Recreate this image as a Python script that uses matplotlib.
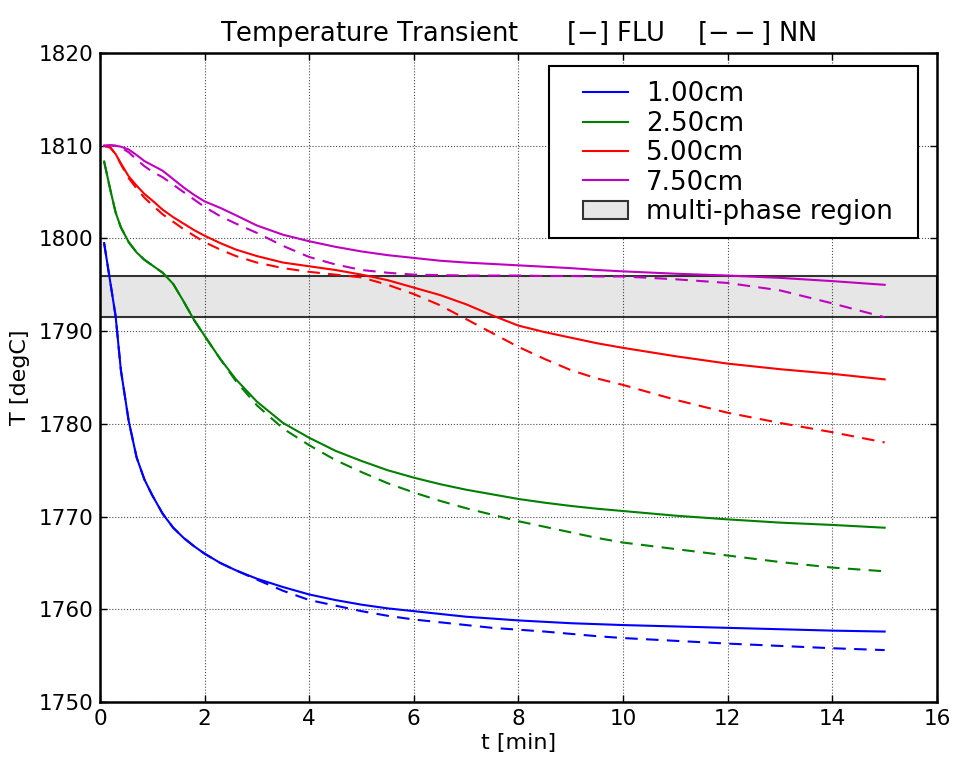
import matplotlib
matplotlib.use("Agg")
import matplotlib.pyplot as plt
from matplotlib.patches import Rectangle

# ---------------- data ----------------
t = [0.08, 0.2, 0.3, 0.4, 0.55, 0.7, 0.85, 1.0, 1.2, 1.4, 1.6, 1.8, 2.0, 2.3, 2.6,
     3.0, 3.5, 4.0, 4.5, 5.0, 5.5, 6.0, 6.5, 7.0, 7.5, 8.0, 8.5, 9.0, 9.5, 10.0,
     11.0, 12.0, 13.0, 14.0, 15.0]

blue_flu = [1799.5, 1795.2, 1791.6, 1785.8, 1780.3, 1776.4, 1774.0, 1772.3, 1770.3, 1768.8,
            1767.7, 1766.8, 1766.0, 1765.0, 1764.2, 1763.3, 1762.4, 1761.6, 1761.0, 1760.5,
            1760.1, 1759.8, 1759.5, 1759.2, 1759.0, 1758.8, 1758.65, 1758.5, 1758.4, 1758.3,
            1758.15, 1758.0, 1757.85, 1757.7, 1757.6]
blue_nn = [1799.5, 1795.2, 1791.6, 1785.8, 1780.3, 1776.4, 1774.0, 1772.3, 1770.3, 1768.8,
           1767.7, 1766.8, 1766.0, 1765.0, 1764.2, 1763.2, 1762.0, 1761.0, 1760.4, 1759.8,
           1759.3, 1758.9, 1758.6, 1758.3, 1758.0, 1757.8, 1757.6, 1757.35, 1757.1, 1756.9,
           1756.6, 1756.3, 1756.05, 1755.8, 1755.6]

green_flu = [1808.3, 1805.2, 1802.8, 1801.2, 1799.6, 1798.5, 1797.7, 1797.1, 1796.3, 1795.1,
             1793.2, 1791.2, 1789.5, 1787.0, 1784.8, 1782.4, 1780.1, 1778.5, 1777.1, 1776.0,
             1775.0, 1774.2, 1773.5, 1772.9, 1772.4, 1771.9, 1771.5, 1771.15, 1770.85, 1770.6,
             1770.1, 1769.7, 1769.35, 1769.1, 1768.8]
green_nn = [1808.3, 1805.2, 1802.8, 1801.2, 1799.6, 1798.5, 1797.7, 1797.1, 1796.3, 1795.1,
            1793.2, 1791.2, 1789.5, 1787.0, 1784.6, 1782.0, 1779.5, 1777.7, 1776.1, 1774.8,
            1773.6, 1772.6, 1771.7, 1770.9, 1770.2, 1769.5, 1768.9, 1768.3, 1767.7, 1767.2,
            1766.5, 1765.8, 1765.1, 1764.5, 1764.1]

red_flu = [1810.0, 1809.8, 1809.1, 1808.1, 1806.7, 1805.7, 1804.8, 1804.1, 1803.1, 1802.3,
           1801.6, 1800.9, 1800.3, 1799.5, 1798.8, 1798.1, 1797.4, 1797.0, 1796.6, 1796.1,
           1795.5, 1794.7, 1793.9, 1792.9, 1791.7, 1790.6, 1789.9, 1789.3, 1788.7, 1788.2,
           1787.3, 1786.5, 1785.9, 1785.4, 1784.8]
red_nn = [1810.0, 1809.8, 1809.1, 1808.0, 1806.5, 1805.4, 1804.4, 1803.6, 1802.6, 1801.8,
          1801.0, 1800.3, 1799.6, 1798.8, 1798.1, 1797.4, 1796.8, 1796.4, 1796.1, 1795.8,
          1795.0, 1794.0, 1792.8, 1791.3, 1789.8, 1788.3, 1787.0, 1785.8, 1784.9, 1784.2,
          1782.6, 1781.2, 1780.1, 1779.1, 1778.0]

magenta_flu = [1810.0, 1810.05, 1810.0, 1809.9, 1809.6, 1809.0, 1808.35, 1807.9, 1807.3, 1806.4,
               1805.5, 1804.7, 1804.0, 1803.3, 1802.5, 1801.4, 1800.4, 1799.7, 1799.1, 1798.6,
               1798.2, 1797.9, 1797.6, 1797.4, 1797.25, 1797.1, 1796.95, 1796.8, 1796.6, 1796.45,
               1796.2, 1796.0, 1795.75, 1795.4, 1795.0]
magenta_nn = [1810.0, 1810.05, 1810.0, 1809.8, 1809.3, 1808.5, 1807.8, 1807.2, 1806.6, 1805.8,
              1805.0, 1804.2, 1803.4, 1802.4, 1801.6, 1800.6, 1799.2, 1798.0, 1797.2, 1796.6,
              1796.3, 1796.1, 1796.05, 1796.0, 1796.0, 1796.0, 1795.95, 1795.95, 1795.9, 1795.9,
              1795.6, 1795.2, 1794.4, 1793.0, 1791.5]

labels = ["1.00cm", "2.50cm", "5.00cm", "7.50cm"]
band_low, band_high = 1791.5, 1795.9
band_label = "multi-phase region"

title = "Temperature Transient      [$-$] FLU    [$--$] NN"
xlabel = "t [min]"
ylabel = "T [degC]"

# ---------------- plot ----------------
plt.rcParams['font.family'] = ['DejaVu Sans']
fig = plt.figure(figsize=(9.61, 7.6), dpi=100)
ax = fig.add_axes([0.104, 0.0763, 0.871, 0.8539])

colors = ['b', 'g', 'r', 'm']
flu = [blue_flu, green_flu, red_flu, magenta_flu]
nn = [blue_nn, green_nn, red_nn, magenta_nn]

handles = []
for c, lab, yf, yn in zip(colors, labels, flu, nn):
    h, = ax.plot(t, yf, color=c, lw=1.5, label=lab, zorder=3)
    ax.plot(t, yn, color=c, lw=1.5, linestyle=(0, (6, 4)), zorder=3)
    handles.append(h)

span = ax.axhspan(band_low, band_high, facecolor='0.9', edgecolor='#333333',
                  lw=1.5, label=band_label, zorder=1)
handles.append(span)

ax.set_xlim(0, 16)
ax.set_ylim(1750, 1820)
ax.set_xticks(range(0, 17, 2))
ax.set_yticks(range(1750, 1821, 10))
ax.grid(True, color='k', linestyle=':', lw=0.8, alpha=0.7)
ax.tick_params(direction='in', top=True, right=True, length=5, width=1,
               labelsize=15.5, pad=5)
for s in ax.spines.values():
    s.set_linewidth(1.8)

ax.set_xlabel(xlabel, fontsize=16, labelpad=3)
ax.set_ylabel(ylabel, fontsize=16, labelpad=6)
ax.set_title(title, fontsize=18.5, pad=9)

# legend frame drawn as a box in axes coordinates
frame = Rectangle((0.5364, 0.715), 0.977 - 0.5364, 0.98 - 0.715, transform=ax.transAxes,
                  facecolor='white', edgecolor='k', lw=1.5, zorder=5)
ax.add_patch(frame)
leg = ax.legend(handles=handles, loc='upper left', bbox_to_anchor=(0.577, 0.9564),
                borderaxespad=0, borderpad=0, fontsize=18.8, frameon=False,
                handlelength=1.72, handletextpad=0.69, labelspacing=0.13)
leg.set_zorder(6)

fig.savefig("out.png", dpi=100)
